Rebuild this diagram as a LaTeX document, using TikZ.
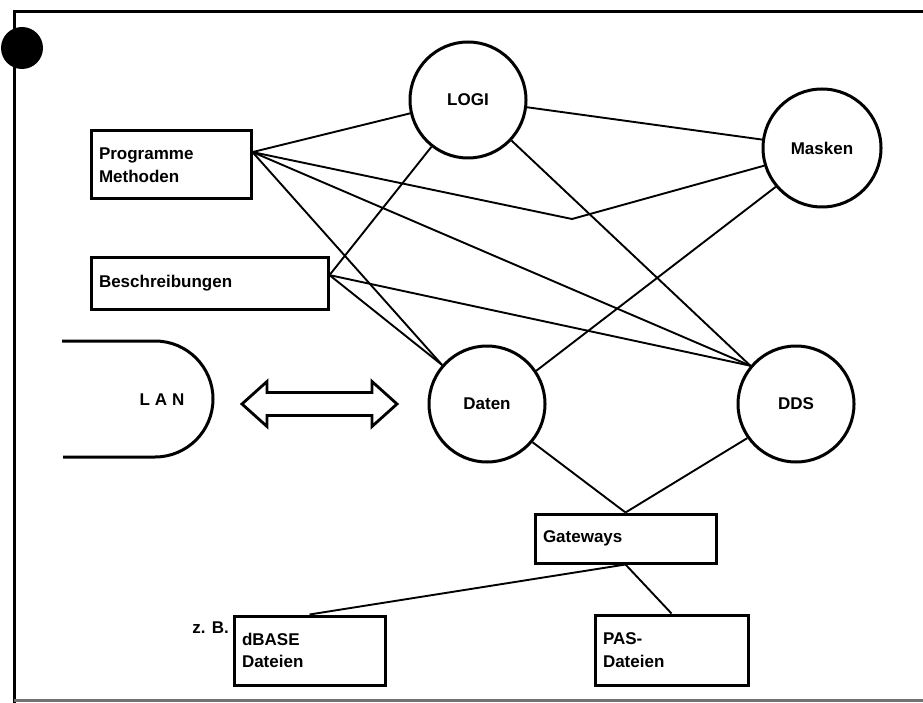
\documentclass[tikz,border=0pt]{standalone}
\usepackage{fontspec}
\setmainfont{Liberation Sans}
\newcommand\lab{\fontsize{17}{22.5}\selectfont\bfseries}
\begin{document}
\begin{tikzpicture}[x=1pt,y=-1pt,
  box/.style={draw, rectangle, line width=3pt, inner xsep=8pt, inner ysep=0pt, align=left, font=\lab},
  circ/.style={draw, circle, line width=3pt, inner sep=0pt, font=\lab},
  con/.style={line width=1.9pt},
  frame/.style={line width=3pt}]
\useasboundingbox (0,0) rectangle (923,703);
% frame
\draw[frame] (923,12) -- (14,12) -- (14,703);
\draw[frame, black!55] (14,700) -- (923,700);
\fill (22,48) circle (21);
% nodes
\node[box, minimum width=160pt, minimum height=68pt, text width=144pt] (prog) at (171,165) {Programme\\Methoden};
\node[box, minimum width=237pt, minimum height=51pt, text width=221pt] (besch) at (209.5,283.5) {Beschreibungen};
\node[circ, minimum size=116pt] (logi) at (468,100) {LOGI};
\node[circ, minimum size=118pt] (masken) at (822,148) {Masken};
\node[circ, minimum size=116pt] (daten) at (487,404) {Daten};
\node[circ, minimum size=116pt] (dds) at (796,404) {DDS};
\node[box, minimum width=181pt, minimum height=49pt, text width=165pt] (gate) at (625.5,538.5) {Gateways};
\node[box, minimum width=151pt, minimum height=69pt, text width=135pt] (dbase) at (309.5,650.5) {dBASE\\Dateien};
\node[box, minimum width=153pt, minimum height=70pt, text width=137pt] (pas) at (671.5,650) {PAS-\\Dateien};
\node[font=\lab, anchor=east, inner sep=0pt] (zb) at (229,628) {z. B.};
% LAN
\draw[line width=3pt] (62,341) -- (155,341) arc[start angle=-90, end angle=90, radius=58] -- (63,457);
\node[font=\lab, inner sep=0pt] (lan) at (162,400) {L\hspace{5pt}A\hspace{5pt}N};
% double arrow
\draw[line width=2.8pt, line join=miter] (242,404) -- (267,381.5) -- (267,392.5) -- (372,392.5) -- (372,381.5) -- (397,404) -- (372,426.5) -- (372,415.5) -- (267,415.5) -- (267,426.5) -- cycle;
% connectors
\coordinate (bend) at (572,219);
\draw[con] (prog.9) -- (logi.193);
\draw[con] (prog.9) -- (bend) -- (masken.197);
\draw[con] (prog.9) -- (dds.140);
\draw[con] (prog.9) -- (daten.139);
\draw[con] (besch.4) -- (logi.232);
\draw[con] (besch.4) -- (dds.140);
\draw[con] (besch.4) -- (daten.139);
\draw[con] (logi.353) -- (masken.172);
\draw[con] (logi.317) -- (dds.140);
\draw[con] (masken.220) -- (daten.34);
\draw[con] (daten.320) -- (gate.north);
\draw[con] (dds.215) -- (gate.north);
\draw[con] (gate.south) -- (dbase.north);
\draw[con] (gate.south) -- (pas.north);
\end{tikzpicture}
\end{document}
